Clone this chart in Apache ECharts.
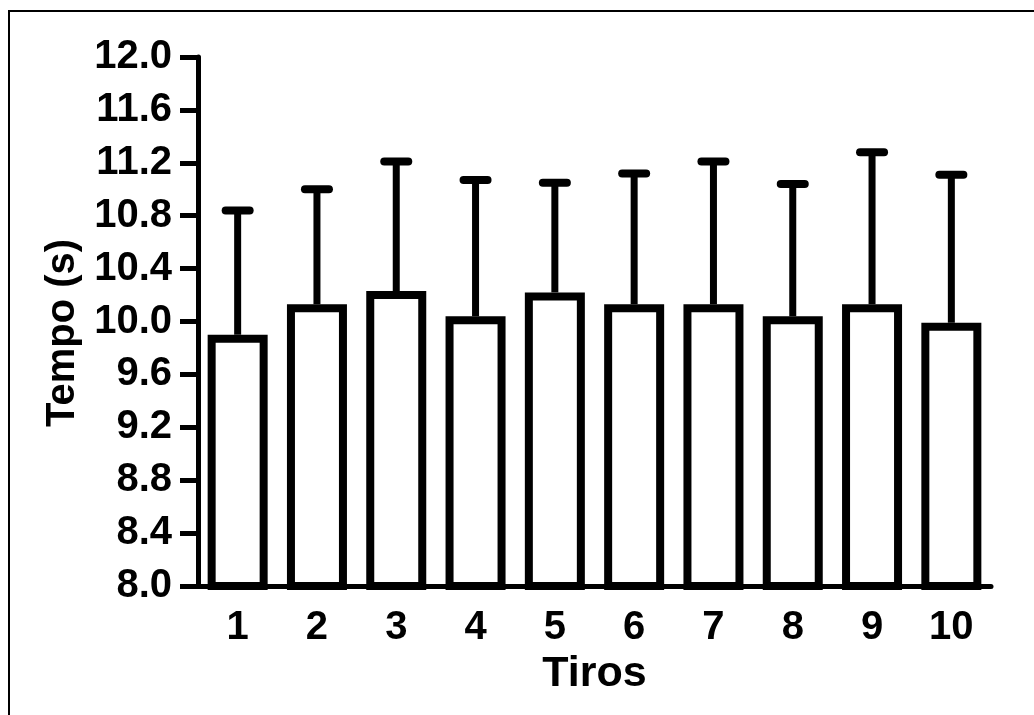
<!DOCTYPE html>
<html>
<head>
    <meta charset="utf-8">
    <title>Tempo (s) por tiro</title>
    <script src="https://cdn.jsdelivr.net/npm/echarts@6/dist/echarts.min.js"></script>
    <style>
        html, body { margin: 0; padding: 0; background: #fff; }
        #chart { width: 1034px; height: 715px; }
    </style>
</head>
<body>
<div id="chart"></div>
<script type="text/javascript">
    // dados
    var tiros = ['1', '2', '3', '4', '5', '6', '7', '8', '9', '10'];
    var media = [9.90, 10.13, 10.23, 10.04, 10.22, 10.13, 10.13, 10.04, 10.13, 9.99];
    var limiteSuperior = [10.84, 11.0, 11.21, 11.07, 11.05, 11.12, 11.21, 11.04, 11.28, 11.11];

    var fonte = '"Liberation Sans", Arial, sans-serif';

    var erroDados = tiros.map(function (t, i) {
        return [i, media[i], limiteSuperior[i]];
    });

    var myChart = echarts.init(document.getElementById('chart'));
    myChart.setOption({
        animation: false,
        backgroundColor: '#fff',
        graphic: [
            {
                type: 'rect',
                shape: { x: 9, y: 11, width: 1200, height: 900 },
                style: { fill: 'none', stroke: '#000', lineWidth: 2 },
                silent: true
            },
            {
                // título do eixo Y
                type: 'text',
                x: 63,
                y: 333,
                rotation: Math.PI / 2,
                style: {
                    text: 'Tempo (s)',
                    fill: '#000',
                    font: 'bold 40px ' + fonte,
                    align: 'center',
                    verticalAlign: 'middle'
                },
                silent: true
            }
        ],
        grid: { left: 198, right: 43, top: 57, bottom: 129 },
        xAxis: {
            type: 'category',
            data: tiros,
            name: 'Tiros',
            nameLocation: 'middle',
            nameGap: 66,
            nameTextStyle: { color: '#000', fontSize: 43, fontWeight: 'bold', fontFamily: fonte },
            axisLine: { lineStyle: { color: '#000', width: 5 } },
            axisTick: { show: false },
            axisLabel: { color: '#000', fontSize: 40, fontWeight: 'bold', fontFamily: fonte, margin: 22 }
        },
        yAxis: {
            type: 'value',
            min: 8,
            max: 12,
            interval: 0.4,
            splitLine: { show: false },
            axisLine: { show: true, lineStyle: { color: '#000', width: 5 } },
            axisTick: { show: true, length: 18, lineStyle: { color: '#000', width: 5 } },
            axisLabel: {
                color: '#000', fontSize: 40, fontWeight: 'bold', fontFamily: fonte, margin: 26,
                formatter: function (v) { return v.toFixed(1); }
            }
        },
        series: [
            {
                name: 'desvio',
                type: 'custom',
                z: 1,
                renderItem: function (params, api) {
                    var x = api.value(0);
                    var base = api.coord([x, api.value(1)]);
                    var top = api.coord([x, api.value(2)]);
                    return {
                        type: 'group',
                        children: [
                            {
                                type: 'line',
                                shape: { x1: base[0], y1: base[1], x2: top[0], y2: top[1] },
                                style: { stroke: '#000', lineWidth: 7 }
                            },
                            {
                                type: 'line',
                                shape: { x1: top[0] - 12, y1: top[1], x2: top[0] + 12, y2: top[1] },
                                style: { stroke: '#000', lineWidth: 8, lineCap: 'round' }
                            }
                        ]
                    };
                },
                encode: { x: 0, y: [1, 2] },
                data: erroDados
            },
            {
                name: 'média',
                type: 'bar',
                z: 2,
                barWidth: 60,
                data: media,
                itemStyle: { color: '#fff', borderColor: '#000', borderWidth: 8 }
            }
        ]
    });
</script>
</body>
</html>
